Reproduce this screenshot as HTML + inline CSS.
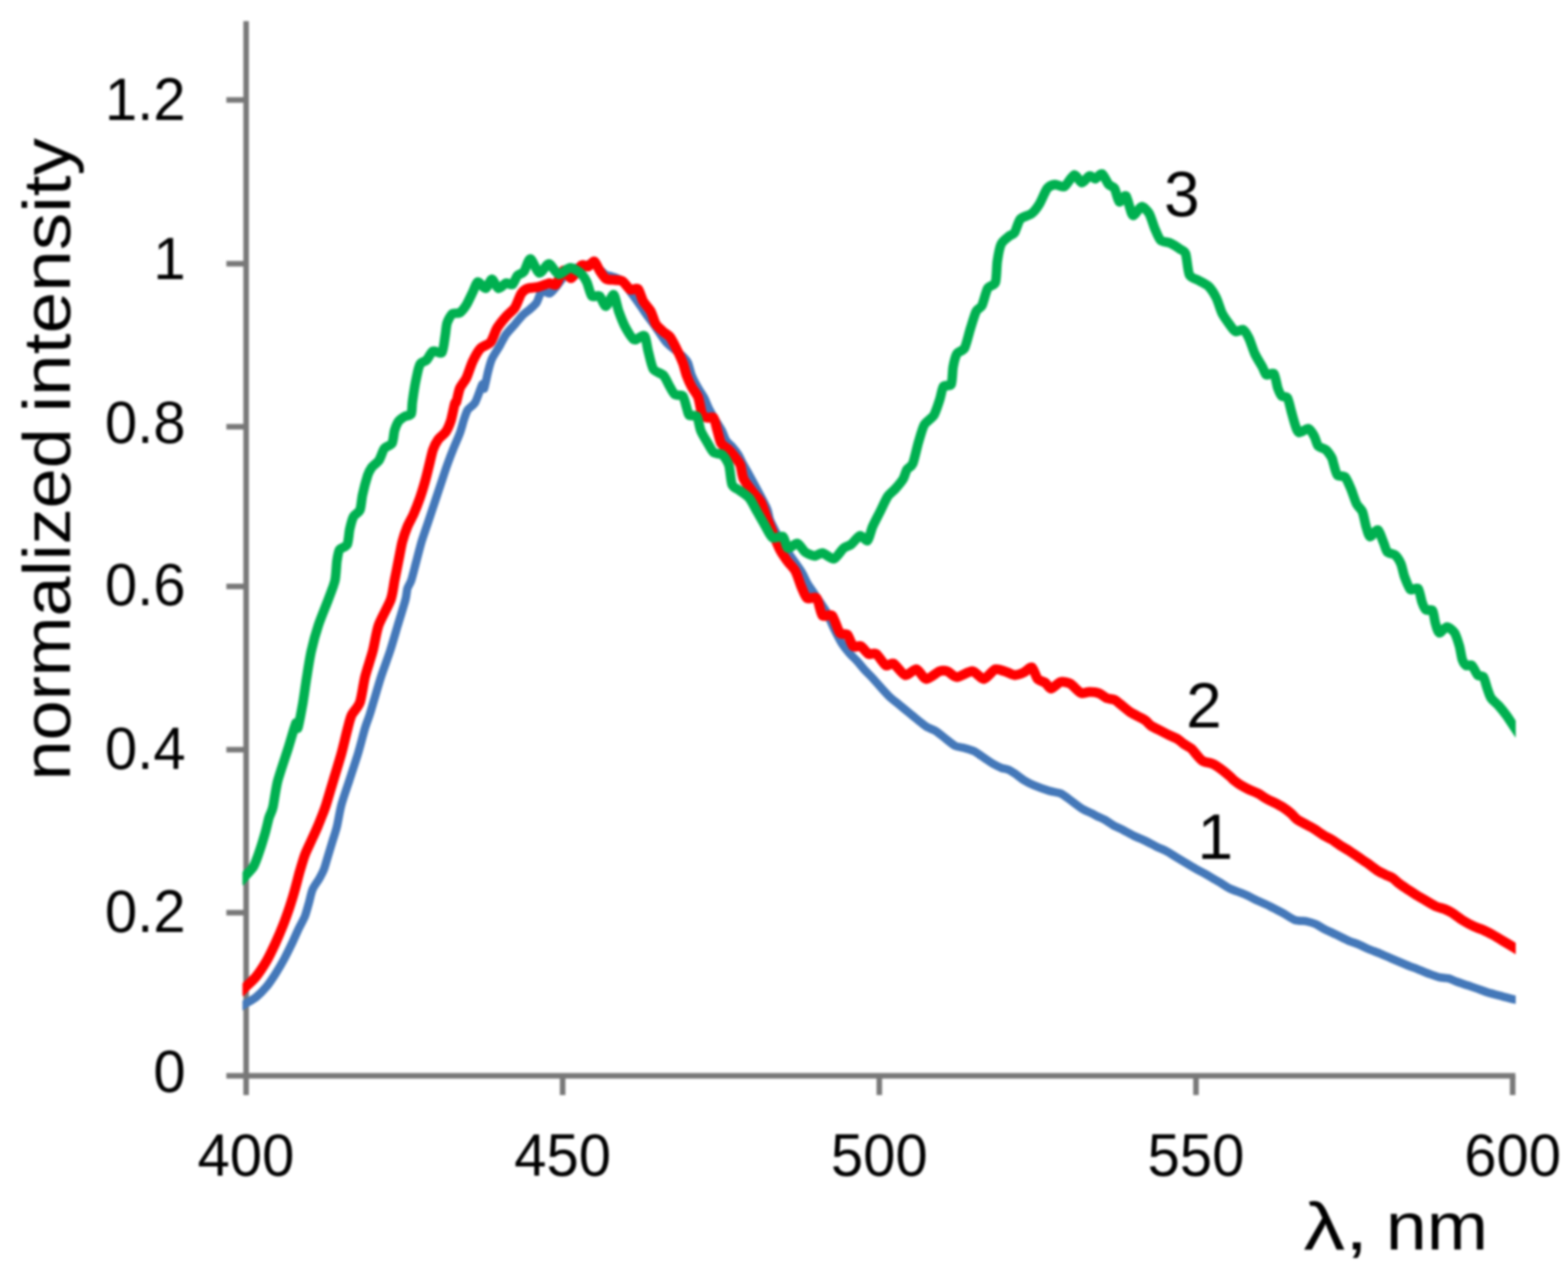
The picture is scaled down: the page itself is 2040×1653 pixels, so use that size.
<!DOCTYPE html>
<html lang="en"><head><meta charset="utf-8">
<title>Normalized intensity spectra</title>
<style>
html,body{margin:0;padding:0;background:#fff;}
body{width:2040px;height:1653px;overflow:hidden;}
svg{display:block;filter:blur(1.6px);}
text{font-family:"Liberation Sans", "DejaVu Sans", sans-serif;fill:#000;}
.tick{font-size:77px;}
.title{font-size:88px;}
.lab{font-size:83px;}
.ax{stroke:#787878;stroke-width:7.2;fill:none;}
.curve{fill:none;stroke-linejoin:round;stroke-linecap:butt;}
</style></head><body>
<svg xmlns="http://www.w3.org/2000/svg" width="2040" height="1653" viewBox="0 0 2040 1653">
<defs><clipPath id="plot"><rect x="315.5" y="0" width="1656.5" height="1653"/></clipPath></defs>
<rect width="2040" height="1653" fill="#fff"/>
<g class="ax">
<line x1="320.2" y1="27.5" x2="320.2" y2="1424.2"/>
<line x1="294.5" y1="1399.2" x2="1971.5" y2="1399.2"/>
<line x1="294.5" y1="1187.0" x2="320.0" y2="1187.0"/>
<line x1="294.5" y1="975.0" x2="320.0" y2="975.0"/>
<line x1="294.5" y1="762.7" x2="320.0" y2="762.7"/>
<line x1="294.5" y1="555.0" x2="320.0" y2="555.0"/>
<line x1="294.5" y1="343.0" x2="320.0" y2="343.0"/>
<line x1="294.5" y1="130.0" x2="320.0" y2="130.0"/>
<line x1="732.0" y1="1399.2" x2="732.0" y2="1424.2"/>
<line x1="1144.0" y1="1399.2" x2="1144.0" y2="1424.2"/>
<line x1="1556.0" y1="1399.2" x2="1556.0" y2="1424.2"/>
<line x1="1968.0" y1="1399.2" x2="1968.0" y2="1424.2"/>
</g>
<g clip-path="url(#plot)">
<path class="curve" stroke="#4478b9" stroke-width="10.8" d="M312.0 1310.0 C313.0 1309.4 317.3 1306.7 320.0 1305.0 C322.7 1303.3 330.0 1299.4 333.3 1296.7 C336.7 1294.0 343.5 1287.1 346.7 1283.3 C349.8 1279.6 355.4 1271.2 358.3 1266.7 C361.2 1262.1 367.3 1251.7 370.0 1246.7 C372.7 1241.7 377.7 1231.5 380.0 1226.7 C382.3 1221.9 386.2 1212.7 388.3 1208.3 C390.4 1204.0 395.0 1195.8 396.7 1191.7 C398.3 1187.5 400.4 1179.4 401.7 1175.0 C402.9 1170.6 405.0 1160.6 406.7 1156.7 C408.3 1152.7 413.1 1146.7 415.0 1143.3 C416.9 1140.0 420.2 1133.8 421.7 1130.0 C423.1 1126.2 425.2 1118.1 426.7 1113.3 C428.1 1108.5 431.9 1096.5 433.3 1091.7 C434.8 1086.9 437.0 1080.6 438.3 1075.0 C439.7 1069.4 442.1 1054.4 444.2 1046.7 C446.2 1039.0 452.3 1021.7 455.0 1013.3 C457.7 1005.0 463.3 988.3 465.8 980.0 C468.3 971.7 473.1 952.9 475.0 946.7 C476.9 940.4 479.5 934.2 480.8 930.0 C482.2 925.8 484.0 919.6 485.8 913.3 C487.7 907.1 493.1 888.3 495.8 880.0 C498.5 871.7 504.8 855.0 507.5 846.7 C510.2 838.3 515.0 821.7 517.5 813.3 C520.0 805.0 525.9 786.0 527.5 780.0 C529.1 774.0 529.1 768.6 530.0 765.5 C530.9 762.4 533.5 759.4 535.0 755.0 C536.5 750.6 540.0 736.2 541.7 730.0 C543.3 723.8 546.5 711.2 548.3 705.0 C550.2 698.8 554.6 686.2 556.7 680.0 C558.8 673.8 562.9 661.2 565.0 655.0 C567.1 648.8 571.2 636.2 573.3 630.0 C575.4 623.8 579.6 610.8 581.7 605.0 C583.8 599.2 587.9 588.5 590.0 583.3 C592.1 578.1 596.7 567.9 598.3 563.3 C600.0 558.8 602.1 550.4 603.3 546.7 C604.6 542.9 606.5 536.2 608.3 533.3 C610.2 530.4 615.9 527.5 618.3 523.3 C620.7 519.2 626.0 502.3 627.5 500.0 C629.0 497.7 629.1 507.1 630.0 505.0 C630.9 502.9 633.8 488.1 635.0 483.3 C636.2 478.5 638.1 470.8 640.0 466.7 C641.9 462.5 647.7 454.0 650.0 450.0 C652.3 446.0 655.8 438.5 658.3 435.0 C660.8 431.5 667.3 424.8 670.0 421.7 C672.7 418.5 677.5 412.5 680.0 410.0 C682.5 407.5 687.7 403.8 690.0 401.7 C692.3 399.6 696.5 396.2 698.3 393.3 C700.2 390.4 702.9 379.8 705.0 378.3 C707.1 376.9 712.7 382.3 715.0 381.7 C717.3 381.0 720.2 377.0 723.3 373.3 C726.5 369.7 735.7 355.9 740.0 352.5 C744.3 349.1 753.4 347.5 757.5 346.2 C761.6 345.0 769.7 342.0 772.5 342.5 C775.3 343.0 778.0 348.1 780.0 350.0 C782.0 351.9 786.2 356.3 788.3 357.5 C790.4 358.7 794.0 358.6 796.7 359.7 C799.4 360.7 806.9 363.1 810.0 365.8 C813.1 368.6 818.9 377.8 821.7 381.7 C824.5 385.5 830.0 393.1 832.5 396.7 C835.0 400.2 839.3 406.7 841.7 410.0 C844.1 413.3 849.2 419.8 851.7 423.3 C854.2 426.9 859.6 435.4 861.7 438.3 C863.8 441.2 866.0 444.4 868.3 446.7 C870.6 449.0 877.5 454.6 880.0 456.7 C882.5 458.8 886.5 461.5 888.3 463.3 C890.2 465.2 893.5 468.5 895.0 471.7 C896.5 474.8 898.4 484.4 900.0 488.3 C901.6 492.3 905.5 499.8 907.5 503.3 C909.5 506.9 914.1 513.3 915.8 516.7 C917.6 520.0 919.9 526.5 921.7 530.0 C923.4 533.5 927.8 541.2 930.0 545.0 C932.2 548.8 937.3 556.5 939.2 560.0 C941.0 563.5 943.2 570.6 945.0 573.3 C946.8 576.0 951.4 579.4 953.3 581.7 C955.3 584.0 959.2 589.0 960.8 591.7 C962.5 594.4 964.9 600.0 966.7 603.3 C968.4 606.6 971.1 610.9 975.0 618.0 C978.9 625.1 994.1 653.0 997.5 660.5 C1000.9 668.0 999.7 671.8 1002.5 678.0 C1005.3 684.2 1015.0 702.4 1020.0 710.5 C1025.0 718.6 1038.8 737.1 1042.5 743.0 C1046.2 748.9 1047.8 754.2 1050.0 758.0 C1052.2 761.8 1056.9 768.3 1060.0 773.0 C1063.1 777.7 1071.9 789.9 1075.0 795.5 C1078.1 801.1 1082.5 812.3 1085.0 817.5 C1087.5 822.6 1092.5 832.4 1095.0 836.4 C1097.5 840.3 1102.5 846.5 1105.0 849.4 C1107.5 852.3 1112.5 856.9 1115.0 859.7 C1117.5 862.4 1122.5 868.6 1125.0 871.4 C1127.5 874.1 1132.5 878.9 1135.0 881.6 C1137.5 884.3 1142.2 889.8 1145.0 892.9 C1147.8 896.0 1154.4 903.4 1157.5 906.4 C1160.6 909.3 1166.9 914.0 1170.0 916.6 C1173.1 919.2 1179.4 924.3 1182.5 926.9 C1185.6 929.5 1192.2 934.8 1195.0 937.1 C1197.8 939.3 1202.2 943.2 1205.0 944.9 C1207.8 946.7 1214.4 948.8 1217.5 950.8 C1220.6 952.7 1226.9 958.1 1230.0 960.5 C1233.1 962.9 1239.4 968.4 1242.5 970.0 C1245.6 971.5 1251.9 972.0 1255.0 972.9 C1258.1 973.7 1264.1 975.3 1267.5 977.1 C1270.9 978.9 1279.4 985.1 1282.5 987.1 C1285.6 989.2 1290.0 992.1 1292.5 993.6 C1295.0 995.0 1300.0 997.6 1302.5 998.6 C1305.0 999.5 1310.3 1000.3 1312.5 1001.2 C1314.7 1002.1 1317.5 1004.1 1320.0 1005.8 C1322.5 1007.5 1329.4 1013.0 1332.5 1014.9 C1335.6 1016.8 1340.9 1019.6 1345.0 1021.3 C1349.1 1023.0 1360.6 1027.2 1365.0 1028.5 C1369.4 1029.8 1376.6 1030.5 1380.0 1032.0 C1383.4 1033.5 1389.1 1038.0 1392.5 1040.5 C1395.9 1043.0 1404.1 1049.5 1407.5 1051.6 C1410.9 1053.7 1417.5 1056.4 1420.0 1057.7 C1422.5 1058.9 1425.3 1060.5 1427.5 1061.6 C1429.7 1062.7 1434.7 1064.6 1437.5 1066.2 C1440.3 1067.8 1447.2 1072.7 1450.0 1074.3 C1452.8 1075.8 1456.9 1077.2 1460.0 1078.8 C1463.1 1080.3 1471.2 1085.2 1475.0 1087.0 C1478.8 1088.8 1486.2 1091.7 1490.0 1093.5 C1493.8 1095.3 1501.6 1099.6 1505.0 1101.3 C1508.4 1103.0 1514.4 1105.3 1517.5 1107.0 C1520.6 1108.6 1526.9 1112.7 1530.0 1114.6 C1533.1 1116.5 1539.4 1120.2 1542.5 1122.1 C1545.6 1124.0 1551.9 1127.9 1555.0 1129.6 C1558.1 1131.4 1564.7 1134.6 1567.5 1136.2 C1570.3 1137.7 1575.0 1140.7 1577.5 1142.1 C1580.0 1143.6 1584.7 1146.2 1587.5 1147.8 C1590.3 1149.5 1595.9 1153.6 1600.0 1155.5 C1604.1 1157.5 1615.6 1161.4 1620.0 1163.4 C1624.4 1165.3 1630.9 1168.9 1635.0 1170.9 C1639.1 1172.8 1648.1 1176.6 1652.5 1178.8 C1656.9 1180.9 1665.9 1185.8 1670.0 1188.0 C1674.1 1190.3 1681.2 1195.3 1685.0 1196.6 C1688.8 1197.9 1696.6 1197.5 1700.0 1198.2 C1703.4 1198.9 1709.7 1200.9 1712.5 1202.2 C1715.3 1203.4 1719.4 1206.5 1722.5 1208.1 C1725.6 1209.7 1733.4 1213.2 1737.5 1215.2 C1741.6 1217.1 1751.2 1222.1 1755.0 1223.7 C1758.8 1225.3 1764.4 1226.9 1767.5 1228.2 C1770.6 1229.5 1776.6 1232.6 1780.0 1234.1 C1783.4 1235.6 1791.2 1238.3 1795.0 1239.9 C1798.8 1241.4 1805.6 1244.6 1810.0 1246.5 C1814.4 1248.3 1825.6 1253.1 1830.0 1254.9 C1834.4 1256.7 1841.2 1259.2 1845.0 1260.7 C1848.8 1262.2 1856.6 1265.5 1860.0 1266.8 C1863.4 1268.1 1869.4 1270.3 1872.5 1271.0 C1875.6 1271.8 1882.2 1271.9 1885.0 1272.6 C1887.8 1273.3 1891.9 1275.5 1895.0 1276.6 C1898.1 1277.8 1906.6 1280.5 1910.0 1281.7 C1913.4 1282.9 1919.4 1284.9 1922.5 1286.0 C1925.6 1287.1 1930.9 1289.2 1935.0 1290.5 C1939.1 1291.7 1950.6 1294.8 1955.0 1296.0 C1959.4 1297.2 1966.9 1299.0 1970.0 1299.8 C1973.1 1300.5 1978.8 1301.9 1980.0 1302.2"/>
<path class="curve" stroke="#ff0000" stroke-width="12.8" d="M312.0 1291.3 C313.0 1290.3 317.3 1286.0 320.0 1283.3 C322.7 1280.7 330.0 1274.2 333.3 1270.0 C336.7 1265.8 343.5 1255.4 346.7 1250.0 C349.8 1244.6 355.6 1232.5 358.3 1226.7 C361.0 1220.8 366.0 1209.2 368.3 1203.3 C370.6 1197.5 374.8 1185.6 376.7 1180.0 C378.5 1174.4 381.7 1164.2 383.3 1158.3 C385.0 1152.5 388.3 1139.2 390.0 1133.3 C391.7 1127.5 394.8 1116.7 396.7 1111.7 C398.5 1106.7 402.9 1097.9 405.0 1093.3 C407.1 1088.8 411.5 1079.4 413.3 1075.0 C415.2 1070.6 418.6 1061.9 420.0 1058.3 C421.4 1054.8 422.4 1052.3 424.2 1046.7 C425.9 1041.0 431.7 1021.7 434.2 1013.3 C436.7 1005.0 441.9 988.3 444.2 980.0 C446.5 971.7 450.8 952.9 452.5 946.7 C454.2 940.4 455.5 934.2 457.5 930.0 C459.5 925.8 466.1 919.6 468.3 913.3 C470.5 907.1 472.9 888.3 475.0 880.0 C477.1 871.7 482.8 855.0 485.0 846.7 C487.2 838.3 489.6 821.7 492.5 813.3 C495.4 805.0 505.7 787.3 508.3 780.0 C510.9 772.7 512.1 761.2 513.3 755.0 C514.6 748.8 517.1 736.2 518.3 730.0 C519.6 723.8 521.9 710.6 523.3 705.0 C524.8 699.4 528.1 689.6 530.0 685.0 C531.9 680.4 536.2 673.1 538.3 668.3 C540.4 663.5 544.8 652.1 546.7 646.7 C548.5 641.2 551.9 630.2 553.3 625.0 C554.8 619.8 557.1 610.0 558.3 605.0 C559.6 600.0 561.9 589.2 563.3 585.0 C564.8 580.8 567.9 574.6 570.0 571.7 C572.1 568.8 577.9 564.8 580.0 561.7 C582.1 558.5 585.2 551.2 586.7 546.7 C588.1 542.1 590.8 528.0 591.7 525.0 C592.6 522.0 592.9 525.0 593.8 522.5 C594.6 520.0 596.7 508.9 598.3 505.0 C599.9 501.1 604.6 496.0 606.7 491.7 C608.8 487.3 612.7 474.8 615.0 470.0 C617.3 465.2 622.1 456.5 625.0 453.3 C627.9 450.2 635.6 448.3 638.3 445.0 C641.0 441.7 644.2 430.8 646.7 426.7 C649.2 422.5 655.4 415.0 658.3 411.7 C661.2 408.3 667.5 403.8 670.0 400.0 C672.5 396.2 676.2 384.8 678.3 381.7 C680.4 378.5 684.0 376.0 686.7 375.0 C689.4 374.0 696.5 374.2 700.0 373.3 C703.5 372.5 712.1 368.8 715.0 368.3 C717.9 367.9 721.0 372.1 723.3 370.0 C725.6 367.9 730.8 352.7 733.3 351.7 C735.8 350.6 740.4 362.5 743.3 361.7 C746.2 360.8 754.0 346.9 756.7 345.0 C759.4 343.1 762.9 347.3 765.0 346.7 C767.1 346.0 771.5 339.4 773.3 340.0 C775.2 340.6 778.1 348.9 780.0 351.7 C781.9 354.5 785.8 360.9 788.3 362.5 C790.8 364.1 797.3 363.8 800.0 364.2 C802.7 364.6 807.5 364.3 810.0 365.8 C812.5 367.4 817.5 375.4 820.0 376.7 C822.5 377.9 827.9 374.0 830.0 375.8 C832.1 377.7 834.6 388.0 836.7 391.7 C838.8 395.3 844.6 401.2 846.7 405.0 C848.8 408.8 851.2 418.3 853.3 421.7 C855.4 425.0 861.0 429.6 863.3 431.7 C865.6 433.8 869.6 435.6 871.7 438.3 C873.8 441.0 877.9 449.2 880.0 453.3 C882.1 457.5 886.7 467.3 888.3 471.7 C890.0 476.0 891.9 484.4 893.3 488.3 C894.8 492.3 898.1 499.8 900.0 503.3 C901.9 506.9 906.7 512.3 908.3 516.7 C910.0 521.0 911.9 535.0 913.3 538.3 C914.8 541.7 918.1 542.7 920.0 543.3 C921.9 544.0 926.7 541.2 928.3 543.3 C930.0 545.4 932.1 555.8 933.3 560.0 C934.6 564.2 936.5 573.5 938.3 576.7 C940.2 579.8 946.0 582.7 948.3 585.0 C950.6 587.3 954.8 592.5 956.7 595.0 C958.5 597.5 962.0 601.5 963.3 605.0 C964.7 608.5 965.4 618.6 967.5 623.0 C969.6 627.4 977.2 636.8 980.0 640.5 C982.8 644.2 987.8 648.9 990.0 653.0 C992.2 657.1 995.3 667.4 997.5 673.0 C999.7 678.6 1005.3 692.7 1007.5 698.0 C1009.7 703.3 1012.8 711.4 1015.0 715.5 C1017.2 719.6 1022.5 727.1 1025.0 730.5 C1027.5 733.9 1032.8 738.9 1035.0 743.0 C1037.2 747.1 1040.6 758.6 1042.5 763.0 C1044.4 767.4 1047.5 776.1 1050.0 778.0 C1052.5 779.9 1060.0 775.2 1062.5 778.0 C1065.0 780.8 1067.5 797.7 1070.0 800.5 C1072.5 803.3 1079.7 797.7 1082.5 800.5 C1085.3 803.3 1090.0 819.9 1092.5 823.0 C1095.0 826.1 1100.3 823.3 1102.5 825.5 C1104.7 827.7 1107.8 838.6 1110.0 840.5 C1112.2 842.4 1117.5 839.2 1120.0 840.5 C1122.5 841.8 1127.5 849.2 1130.0 850.5 C1132.5 851.8 1137.2 848.6 1140.0 850.5 C1142.8 852.4 1149.7 863.9 1152.5 865.5 C1155.3 867.1 1159.4 861.4 1162.5 863.0 C1165.6 864.6 1173.8 877.1 1177.5 878.0 C1181.2 878.9 1189.1 869.9 1192.5 870.5 C1195.9 871.1 1201.2 882.7 1205.0 883.0 C1208.8 883.3 1219.1 874.2 1222.5 873.0 C1225.9 871.8 1229.7 872.1 1232.5 873.0 C1235.3 873.9 1240.9 880.5 1245.0 880.5 C1249.1 880.5 1260.6 872.7 1265.0 873.0 C1269.4 873.3 1276.2 883.3 1280.0 883.0 C1283.8 882.7 1291.2 871.6 1295.0 870.5 C1298.8 869.4 1306.9 873.3 1310.0 874.2 C1313.1 875.2 1317.2 878.0 1320.0 878.0 C1322.8 878.0 1329.7 875.5 1332.5 874.2 C1335.3 873.0 1340.3 866.9 1342.5 868.0 C1344.7 869.1 1347.8 880.5 1350.0 883.0 C1352.2 885.5 1357.8 886.4 1360.0 888.0 C1362.2 889.6 1365.0 895.6 1367.5 895.5 C1370.0 895.4 1376.9 887.6 1380.0 886.9 C1383.1 886.1 1390.0 888.1 1392.5 889.2 C1395.0 890.4 1398.1 894.5 1400.0 896.1 C1401.9 897.6 1405.3 901.1 1407.5 901.6 C1409.7 902.0 1414.7 899.8 1417.5 899.8 C1420.3 899.8 1427.2 900.6 1430.0 901.7 C1432.8 902.7 1437.5 907.0 1440.0 908.0 C1442.5 909.1 1447.8 909.1 1450.0 910.1 C1452.2 911.0 1455.0 913.8 1457.5 915.8 C1460.0 917.8 1467.2 923.9 1470.0 925.9 C1472.8 927.8 1477.5 930.0 1480.0 931.4 C1482.5 932.7 1487.8 935.2 1490.0 936.8 C1492.2 938.3 1495.0 942.2 1497.5 943.9 C1500.0 945.6 1507.2 949.0 1510.0 950.4 C1512.8 951.9 1517.2 954.2 1520.0 955.6 C1522.8 956.9 1530.0 960.0 1532.5 961.4 C1535.0 962.9 1537.8 965.8 1540.0 967.4 C1542.2 968.9 1547.8 971.8 1550.0 973.6 C1552.2 975.5 1555.6 980.4 1557.5 982.5 C1559.4 984.5 1562.5 988.5 1565.0 989.8 C1567.5 991.2 1574.7 992.2 1577.5 993.4 C1580.3 994.6 1584.7 997.5 1587.5 999.5 C1590.3 1001.5 1597.8 1007.7 1600.0 1009.6 C1602.2 1011.4 1603.1 1012.9 1605.0 1014.4 C1606.9 1015.9 1612.5 1020.0 1615.0 1021.6 C1617.5 1023.1 1622.2 1025.6 1625.0 1026.9 C1627.8 1028.2 1634.7 1030.8 1637.5 1032.3 C1640.3 1033.7 1644.7 1037.2 1647.5 1038.7 C1650.3 1040.3 1657.2 1043.4 1660.0 1044.8 C1662.8 1046.3 1667.5 1048.8 1670.0 1050.5 C1672.5 1052.1 1677.8 1056.3 1680.0 1058.2 C1682.2 1060.1 1685.0 1063.9 1687.5 1065.7 C1690.0 1067.5 1697.2 1071.2 1700.0 1072.7 C1702.8 1074.3 1707.2 1076.5 1710.0 1078.2 C1712.8 1080.0 1719.7 1084.9 1722.5 1086.6 C1725.3 1088.3 1729.7 1090.2 1732.5 1091.9 C1735.3 1093.6 1742.2 1098.6 1745.0 1100.4 C1747.8 1102.2 1752.2 1104.5 1755.0 1106.3 C1757.8 1108.1 1764.4 1112.8 1767.5 1114.9 C1770.6 1117.0 1776.9 1121.1 1780.0 1123.3 C1783.1 1125.6 1789.7 1130.7 1792.5 1132.5 C1795.3 1134.3 1800.0 1136.4 1802.5 1137.7 C1805.0 1138.9 1810.3 1140.9 1812.5 1142.3 C1814.7 1143.7 1817.8 1147.2 1820.0 1148.9 C1822.2 1150.6 1827.5 1154.2 1830.0 1155.9 C1832.5 1157.5 1837.2 1160.6 1840.0 1162.3 C1842.8 1164.1 1849.1 1167.8 1852.5 1169.8 C1855.9 1171.8 1864.1 1176.9 1867.5 1178.5 C1870.9 1180.1 1877.2 1181.4 1880.0 1182.5 C1882.8 1183.7 1887.2 1185.9 1890.0 1187.7 C1892.8 1189.4 1899.1 1194.5 1902.5 1196.6 C1905.9 1198.7 1914.1 1203.2 1917.5 1204.8 C1920.9 1206.5 1926.9 1208.2 1930.0 1209.6 C1933.1 1211.0 1939.4 1214.3 1942.5 1216.0 C1945.6 1217.7 1951.6 1221.4 1955.0 1223.5 C1958.4 1225.5 1966.9 1230.5 1970.0 1232.4 C1973.1 1234.2 1978.8 1237.7 1980.0 1238.5"/>
<path class="curve" stroke="#00b050" stroke-width="12.4" d="M312.0 1147.7 C313.0 1146.5 317.8 1141.0 320.0 1138.3 C322.2 1135.7 327.7 1130.8 330.0 1126.7 C332.3 1122.5 336.5 1110.4 338.3 1105.0 C340.2 1099.6 343.5 1088.5 345.0 1083.3 C346.5 1078.1 348.8 1067.5 350.0 1063.3 C351.2 1059.2 353.6 1055.9 355.0 1050.0 C356.4 1044.1 358.8 1025.6 361.2 1016.0 C363.8 1006.4 372.0 982.4 375.0 973.0 C378.0 963.6 383.4 943.8 385.0 940.5 C386.6 937.2 386.4 950.1 387.5 946.7 C388.6 943.3 392.7 921.7 394.2 913.3 C395.6 905.0 397.8 888.3 399.2 880.0 C400.5 871.7 403.1 855.0 405.0 846.7 C406.9 838.3 411.4 821.7 414.2 813.3 C416.9 805.0 424.3 787.3 427.0 780.0 C429.7 772.7 434.4 761.2 435.8 755.0 C437.2 748.8 437.6 735.0 438.3 730.0 C439.1 725.0 440.0 717.7 441.7 715.0 C443.3 712.3 450.0 711.7 451.7 708.3 C453.3 705.0 454.0 692.9 455.0 688.3 C456.0 683.8 458.3 674.8 460.0 671.7 C461.7 668.5 466.9 666.9 468.3 663.3 C469.8 659.8 470.4 649.0 471.7 643.3 C472.9 637.7 476.9 622.7 478.3 618.3 C479.8 614.0 481.5 610.8 483.3 608.3 C485.2 605.8 491.2 601.5 493.3 598.3 C495.4 595.2 497.9 586.0 500.0 583.3 C502.1 580.6 508.3 579.6 510.0 576.7 C511.7 573.8 512.3 563.5 513.3 560.0 C514.4 556.5 516.7 550.6 518.3 548.3 C520.0 546.0 524.6 542.9 526.7 541.7 C528.8 540.4 533.8 540.8 535.0 538.3 C536.2 535.8 535.8 527.5 536.7 521.7 C537.5 515.8 540.4 497.7 541.7 491.7 C542.9 485.6 545.0 476.2 546.7 473.3 C548.3 470.4 552.9 470.4 555.0 468.3 C557.1 466.2 560.8 457.9 563.3 456.7 C565.8 455.4 573.0 460.8 575.0 458.3 C577.0 455.8 578.3 441.5 579.2 436.7 C580.0 431.9 580.5 423.5 581.7 420.0 C582.8 416.5 586.2 410.0 588.3 408.3 C590.4 406.7 596.0 408.1 598.3 406.7 C600.6 405.2 604.6 400.0 606.7 396.7 C608.8 393.3 613.1 383.8 615.0 380.0 C616.9 376.2 619.6 367.3 621.7 366.7 C623.8 366.0 629.4 375.4 631.7 375.0 C634.0 374.6 637.9 363.3 640.0 363.3 C642.1 363.3 646.0 374.4 648.3 375.0 C650.6 375.6 656.0 369.0 658.3 368.3 C660.6 367.7 664.8 371.2 666.7 370.0 C668.5 368.8 671.5 360.4 673.3 358.3 C675.2 356.2 679.6 356.0 681.7 353.3 C683.8 350.6 687.5 336.5 690.0 336.7 C692.5 336.9 698.6 354.2 701.7 355.0 C704.7 355.8 711.0 343.1 714.2 343.3 C717.3 343.5 723.2 356.0 726.7 356.7 C730.1 357.3 738.1 348.5 741.7 348.3 C745.2 348.1 752.3 352.7 755.0 355.0 C757.7 357.3 761.5 362.9 763.3 366.7 C765.2 370.4 767.9 382.7 770.0 385.0 C772.1 387.3 777.7 383.3 780.0 385.0 C782.3 386.7 786.0 398.5 788.3 398.3 C790.6 398.1 796.2 382.5 798.3 383.3 C800.4 384.2 803.1 399.8 805.0 405.0 C806.9 410.2 810.8 420.4 813.3 425.0 C815.8 429.6 821.9 440.2 825.0 441.7 C828.1 443.1 836.0 434.8 838.3 436.7 C840.6 438.5 841.9 451.2 843.3 456.7 C844.8 462.1 847.5 476.0 850.0 480.0 C852.5 484.0 860.6 485.4 863.3 488.3 C866.0 491.3 869.8 500.2 871.7 503.3 C873.5 506.5 876.2 511.9 878.3 513.3 C880.4 514.8 886.5 512.9 888.3 515.0 C890.2 517.1 892.3 526.9 893.3 530.0 C894.4 533.1 895.0 538.5 896.7 540.0 C898.3 541.5 904.8 539.2 906.7 541.7 C908.5 544.2 910.0 555.8 911.7 560.0 C913.3 564.2 917.9 571.5 920.0 575.0 C922.1 578.5 925.8 586.2 928.3 588.3 C930.8 590.4 937.5 589.6 940.0 591.7 C942.5 593.8 946.8 600.1 948.3 605.0 C949.9 609.9 950.7 626.4 952.5 630.5 C954.3 634.6 959.7 635.8 962.5 638.0 C965.3 640.2 972.2 644.6 975.0 648.0 C977.8 651.4 982.5 661.1 985.0 665.5 C987.5 669.9 992.5 678.8 995.0 683.0 C997.5 687.2 1002.0 697.4 1005.0 699.2 C1008.0 701.1 1016.2 696.3 1018.8 698.0 C1021.2 699.7 1022.7 711.9 1025.0 713.0 C1027.3 714.1 1034.7 706.1 1037.5 706.8 C1040.3 707.4 1044.7 716.0 1047.5 718.0 C1050.3 720.0 1057.2 722.8 1060.0 723.0 C1062.8 723.2 1066.9 718.8 1070.0 719.2 C1073.1 719.7 1081.6 727.5 1085.0 726.8 C1088.4 726.0 1094.7 715.3 1097.5 713.0 C1100.3 710.7 1104.8 710.0 1107.5 708.0 C1110.2 706.0 1116.1 697.4 1118.8 696.8 C1121.4 696.1 1126.7 704.4 1128.8 703.0 C1130.8 701.6 1133.0 690.2 1135.0 685.5 C1137.0 680.8 1142.5 670.5 1145.0 665.5 C1147.5 660.5 1152.5 649.2 1155.0 645.5 C1157.5 641.8 1162.5 638.3 1165.0 635.5 C1167.5 632.7 1173.1 626.1 1175.0 623.0 C1176.9 619.9 1178.4 613.0 1180.0 610.5 C1181.6 608.0 1185.6 607.4 1187.5 603.0 C1189.4 598.6 1193.1 581.3 1195.0 575.0 C1196.9 568.7 1200.0 556.9 1202.5 552.5 C1205.0 548.1 1212.5 544.1 1215.0 540.0 C1217.5 535.9 1220.9 524.7 1222.5 520.0 C1224.1 515.3 1225.6 505.0 1227.5 502.5 C1229.4 500.0 1235.9 503.1 1237.5 500.0 C1239.1 496.9 1239.1 482.5 1240.0 477.5 C1240.9 472.5 1243.1 463.1 1245.0 460.0 C1246.9 456.9 1252.8 456.6 1255.0 452.5 C1257.2 448.4 1260.6 433.4 1262.5 427.5 C1264.4 421.6 1268.1 408.8 1270.0 405.0 C1271.9 401.2 1275.6 401.2 1277.5 397.5 C1279.4 393.8 1282.8 378.8 1285.0 375.0 C1287.2 371.2 1293.4 371.9 1295.0 367.5 C1296.6 363.1 1296.6 346.2 1297.5 340.0 C1298.4 333.8 1300.6 321.6 1302.5 317.5 C1304.4 313.4 1310.3 309.4 1312.5 307.5 C1314.7 305.6 1318.1 305.3 1320.0 302.5 C1321.9 299.7 1324.7 288.1 1327.5 285.0 C1330.3 281.9 1339.4 280.0 1342.5 277.5 C1345.6 275.0 1350.0 269.1 1352.5 265.0 C1355.0 260.9 1360.0 248.1 1362.5 245.0 C1365.0 241.9 1369.7 240.3 1372.5 240.0 C1375.3 239.7 1381.9 244.1 1385.0 242.5 C1388.1 240.9 1394.7 228.1 1397.5 227.5 C1400.3 226.9 1405.0 237.3 1407.5 237.5 C1410.0 237.7 1415.3 229.4 1417.5 228.8 C1419.7 228.1 1423.0 232.8 1425.0 232.5 C1427.0 232.2 1431.6 225.3 1433.8 226.2 C1435.9 227.2 1440.5 237.7 1442.5 240.0 C1444.5 242.3 1448.3 242.2 1450.0 245.0 C1451.7 247.8 1454.4 261.2 1456.2 262.5 C1458.1 263.8 1462.8 252.8 1465.0 255.0 C1467.2 257.2 1471.2 278.3 1473.8 280.0 C1476.2 281.7 1482.3 269.1 1485.0 268.8 C1487.7 268.4 1492.8 273.9 1495.0 277.5 C1497.2 281.1 1500.6 293.1 1502.5 297.5 C1504.4 301.9 1507.5 310.2 1510.0 312.5 C1512.5 314.8 1519.4 314.8 1522.5 316.2 C1525.6 317.7 1532.5 322.0 1535.0 323.8 C1537.5 325.5 1540.9 325.8 1542.5 330.0 C1544.1 334.2 1545.3 353.1 1547.5 357.5 C1549.7 361.9 1556.9 363.1 1560.0 365.0 C1563.1 366.9 1569.7 369.7 1572.5 372.5 C1575.3 375.3 1580.3 383.1 1582.5 387.5 C1584.7 391.9 1587.8 403.1 1590.0 407.5 C1592.2 411.9 1597.8 419.5 1600.0 422.5 C1602.2 425.5 1605.3 430.5 1607.5 431.2 C1609.7 432.0 1615.3 427.7 1617.5 428.8 C1619.7 429.8 1623.1 436.1 1625.0 440.0 C1626.9 443.9 1630.3 455.3 1632.5 460.0 C1634.7 464.7 1640.6 474.1 1642.5 477.5 C1644.4 480.9 1645.6 486.4 1647.5 487.5 C1649.4 488.6 1655.6 484.1 1657.5 486.2 C1659.4 488.4 1661.2 501.4 1662.5 505.0 C1663.8 508.6 1665.9 513.4 1667.5 515.0 C1669.1 516.6 1673.4 515.0 1675.0 517.5 C1676.6 520.0 1678.8 530.6 1680.0 535.0 C1681.2 539.4 1683.8 549.1 1685.0 552.5 C1686.2 555.9 1687.8 561.9 1690.0 562.5 C1692.2 563.1 1700.0 556.9 1702.5 557.5 C1705.0 558.1 1708.4 564.7 1710.0 567.5 C1711.6 570.3 1713.1 577.8 1715.0 580.0 C1716.9 582.2 1722.8 583.1 1725.0 585.0 C1727.2 586.9 1731.2 592.8 1732.5 595.0 C1733.8 597.2 1734.1 600.1 1735.0 603.0 C1735.9 605.9 1738.1 615.8 1740.0 618.0 C1741.9 620.2 1747.8 618.3 1750.0 620.5 C1752.2 622.7 1755.6 631.1 1757.5 635.5 C1759.4 639.9 1763.1 651.8 1765.0 655.5 C1766.9 659.2 1770.9 661.8 1772.5 665.5 C1774.1 669.2 1776.2 681.4 1777.5 685.5 C1778.8 689.6 1780.6 697.5 1782.5 698.0 C1784.4 698.5 1790.3 688.3 1792.5 689.2 C1794.7 690.2 1798.4 701.9 1800.0 705.5 C1801.6 709.1 1803.1 716.0 1805.0 718.0 C1806.9 720.0 1812.8 719.9 1815.0 721.8 C1817.2 723.6 1820.9 729.4 1822.5 733.0 C1824.1 736.6 1825.9 746.3 1827.5 750.5 C1829.1 754.7 1832.8 764.9 1835.0 766.8 C1837.2 768.6 1843.1 763.5 1845.0 765.5 C1846.9 767.5 1848.8 779.6 1850.0 783.0 C1851.2 786.4 1853.3 791.6 1855.0 793.0 C1856.7 794.4 1862.2 792.1 1863.8 794.2 C1865.3 796.4 1866.4 806.9 1867.5 810.5 C1868.6 814.1 1870.6 822.4 1872.5 823.0 C1874.4 823.6 1880.0 815.5 1882.5 815.5 C1885.0 815.5 1890.5 819.9 1892.5 823.0 C1894.5 826.1 1897.5 836.1 1898.8 840.5 C1900.0 844.9 1901.4 854.9 1902.5 858.0 C1903.6 861.1 1905.9 864.6 1907.5 865.5 C1909.1 866.4 1913.1 863.9 1915.0 865.5 C1916.9 867.1 1920.6 876.1 1922.5 878.0 C1924.4 879.9 1928.4 878.3 1930.0 880.5 C1931.6 882.7 1933.8 892.1 1935.0 895.5 C1936.2 898.9 1938.1 905.2 1940.0 908.0 C1941.9 910.8 1947.5 915.2 1950.0 918.0 C1952.5 920.8 1957.5 927.1 1960.0 930.5 C1962.5 933.9 1967.5 941.8 1970.0 945.5 C1972.5 949.2 1978.8 958.6 1980.0 960.5"/>
</g>
<text class="tick" x="241.5" y="155.5" text-anchor="end" textLength="104.9" lengthAdjust="spacingAndGlyphs">1.2</text>
<text class="tick" x="241.5" y="363" text-anchor="end" textLength="42.0" lengthAdjust="spacingAndGlyphs">1</text>
<text class="tick" x="241.5" y="576" text-anchor="end" textLength="104.9" lengthAdjust="spacingAndGlyphs">0.8</text>
<text class="tick" x="241.5" y="787" text-anchor="end" textLength="104.9" lengthAdjust="spacingAndGlyphs">0.6</text>
<text class="tick" x="241.5" y="999.5" text-anchor="end" textLength="104.9" lengthAdjust="spacingAndGlyphs">0.4</text>
<text class="tick" x="241.5" y="1212" text-anchor="end" textLength="104.9" lengthAdjust="spacingAndGlyphs">0.2</text>
<text class="tick" x="241.5" y="1420" text-anchor="end" textLength="42.0" lengthAdjust="spacingAndGlyphs">0</text>
<text class="tick" x="320.0" y="1528.5" text-anchor="middle" textLength="125.9" lengthAdjust="spacingAndGlyphs">400</text>
<text class="tick" x="732.0" y="1528.5" text-anchor="middle" textLength="125.9" lengthAdjust="spacingAndGlyphs">450</text>
<text class="tick" x="1144.0" y="1528.5" text-anchor="middle" textLength="125.9" lengthAdjust="spacingAndGlyphs">500</text>
<text class="tick" x="1556.0" y="1528.5" text-anchor="middle" textLength="125.9" lengthAdjust="spacingAndGlyphs">550</text>
<text class="tick" x="1968.0" y="1528.5" text-anchor="middle" textLength="125.9" lengthAdjust="spacingAndGlyphs">600</text>
<text class="lab" x="1537.5" y="280.5" text-anchor="middle">3</text>
<text class="lab" x="1566.3" y="946" text-anchor="middle">2</text>
<text class="lab" x="1581" y="1117" text-anchor="middle">1</text>
<text class="title" transform="translate(91.3 1015) rotate(-90)" textLength="458" lengthAdjust="spacingAndGlyphs">normalized</text>
<text class="title" transform="translate(91.3 536.5) rotate(-90)" textLength="357" lengthAdjust="spacingAndGlyphs">intensity</text>
<text class="title" x="1696" y="1624.5" textLength="84" lengthAdjust="spacingAndGlyphs">λ,</text>
<text class="title" x="1803" y="1624.5" textLength="133" lengthAdjust="spacingAndGlyphs">nm</text>
</svg>
</body></html>
